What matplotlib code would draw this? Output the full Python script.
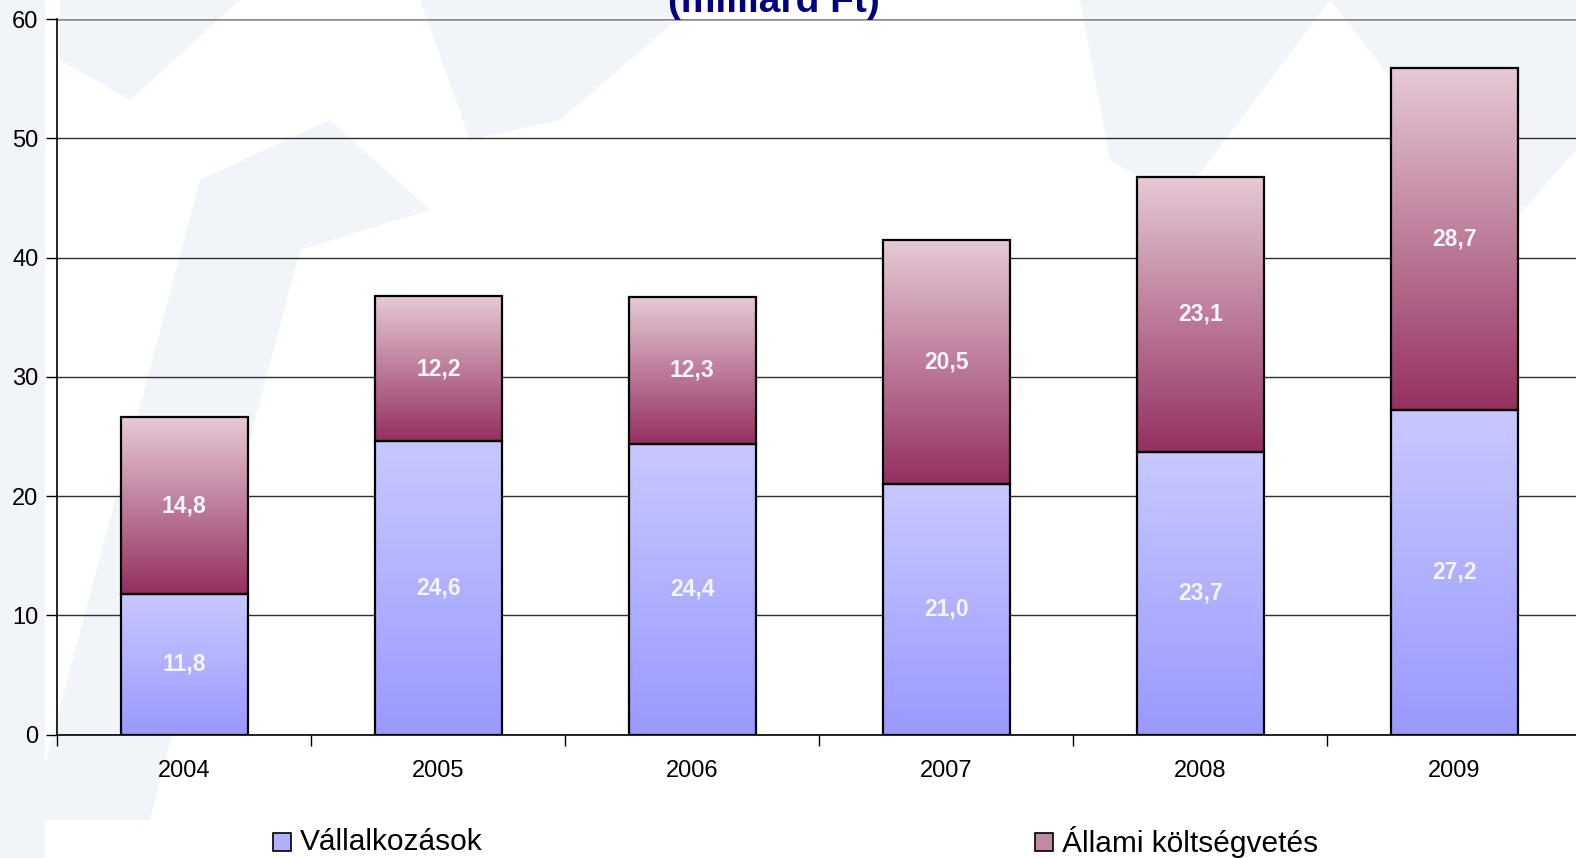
import numpy as np
import matplotlib
matplotlib.use('Agg')
import matplotlib.pyplot as plt
from matplotlib.patches import Rectangle, Polygon
from matplotlib.colors import LinearSegmentedColormap

## Data
years = ['2004', '2005', '2006', '2007', '2008', '2009']
vallalkozasok = [11.8, 24.6, 24.4, 21.0, 23.7, 27.2]
allami = [14.8, 12.2, 12.3, 20.5, 23.1, 28.7]
labels = ['Vállalkozások', 'Állami költségvetés']
title = '(milliárd Ft)'

plt.rcParams['font.family'] = ['Liberation Sans', 'DejaVu Sans']

W, H = 1576, 858
fig = plt.figure(figsize=(W/100, H/100), dpi=100)
fig.patch.set_facecolor('white')

## faint watermark shapes in the background (pixel coords)
def px(pts):
    return [(x/W, 1 - y/H) for x, y in pts]
shapes = [
    [(0, 0), (45, 0), (45, 858), (0, 858)],
    [(30, 820), (150, 820), (300, 250), (430, 210), (330, 120), (200, 180)],
    [(60, 0), (240, 0), (130, 100), (60, 60)],
    [(420, 0), (700, 0), (560, 120), (470, 140)],
    [(1080, 0), (1330, 0), (1180, 200), (1110, 160)],
    [(1330, 0), (1576, 0), (1576, 150), (1480, 260), (1400, 90)],
]
for s in shapes:
    fig.add_artist(Polygon(px(s), closed=True, facecolor='#F1F5FA',
                           edgecolor='none', zorder=-10))

ax = fig.add_axes([57.3/W, 1 - 734.7/H, 6*254/W, (734.7 - 19.1)/H])
ax.patch.set_alpha(0)

x = np.arange(len(years))
bw = 0.5
cm_v = LinearSegmentedColormap.from_list('v', ['#9999FF', '#C8C8FF'])
cm_a = LinearSegmentedColormap.from_list('a', ['#943060', '#E6CAD6'])
grad = np.linspace(0, 1, 256).reshape(-1, 1)

for i in range(len(years)):
    segs = [(0, vallalkozasok[i], cm_v), (vallalkozasok[i], allami[i], cm_a)]
    for bottom, h, cm in segs:
        ax.imshow(grad, cmap=cm, origin='lower', aspect='auto',
                  extent=(x[i] - bw/2, x[i] + bw/2, bottom, bottom + h),
                  zorder=3, interpolation='bilinear')
        ax.add_patch(Rectangle((x[i] - bw/2, bottom), bw, h, fill=False,
                               edgecolor='black', linewidth=1.6, zorder=4))
        ax.text(x[i], bottom + h/2, ('%.1f' % h).replace('.', ','),
                ha='center', va='center', color='#F4F4FA', fontsize=16.5,
                fontweight='bold', zorder=5)

ax.set_xlim(-0.5, len(years) - 0.5)
ax.set_ylim(0, 60)
ax.set_yticks(np.arange(0, 61, 10))
ax.set_xticks(x)
ax.set_xticklabels(years)
ax.set_xticks(np.arange(-0.5, len(years), 1), minor=True)
ax.tick_params(axis='x', which='major', length=0, pad=18, labelsize=17)
ax.tick_params(axis='x', which='minor', length=8, width=1, direction='out')
ax.tick_params(axis='y', length=8, width=1, pad=5.5, labelsize=17)
ax.yaxis.grid(True, color='#303030', linewidth=1, zorder=1)
ax.set_axisbelow(True)
ax.get_ygridlines()[-1].set_color('#8a8a8a')
ax.get_ygridlines()[-1].set_linewidth(1.8)
for sp in ['top', 'right']:
    ax.spines[sp].set_visible(False)
ax.spines['left'].set_linewidth(1.2)
ax.spines['bottom'].set_linewidth(1.2)

## title, cut at top as in the source
fig.text(774/W, 1 - 12/H, title, ha='center', va='baseline', fontsize=28,
         fontweight='bold', color='#000080')

## legend
for (mx, tx), lab, c in zip([(273, 300), (1035, 1062)], labels,
                            ['#B0B0FF', '#C08AA2']):
    fig.add_artist(Rectangle((mx/W, 1 - 851/H), 18/W, 18/H, facecolor=c,
                             edgecolor='black', linewidth=1.2))
    fig.text(tx/W, 1 - 842/H, lab, ha='left', va='center', fontsize=21.5)

fig.savefig('out.png', dpi=100)
